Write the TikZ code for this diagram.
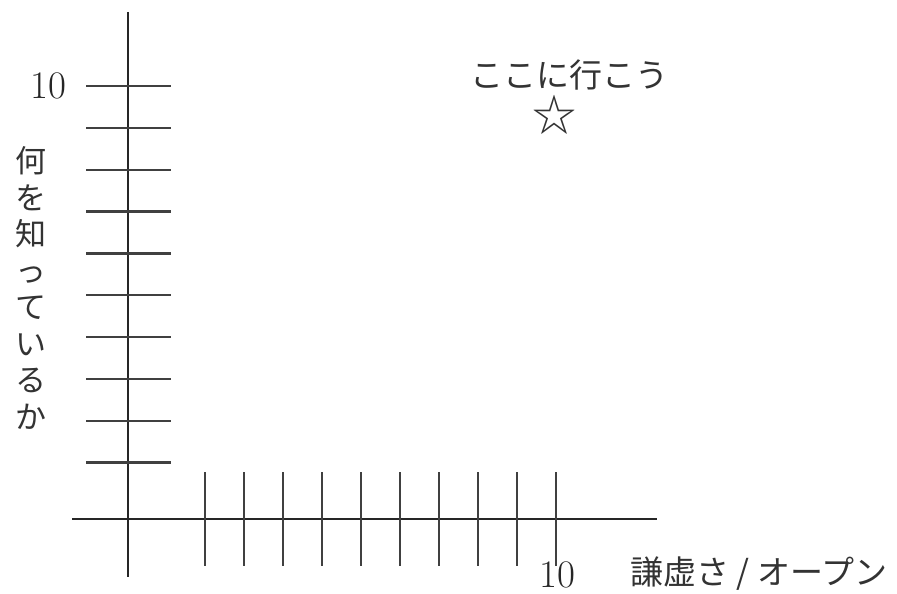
\documentclass[tikz,border=0pt]{standalone}
\usepackage{fontspec}
\newfontfamily\cjk{Noto Sans CJK JP}
\begin{document}
\begin{tikzpicture}[x=1pt,y=-1pt,
  axisline/.style={line width=2.2pt,draw=black!85},
  tickline/.style={line width=2.4pt,draw=black!75},
  numlabel/.style={font=\fontsize{39}{39}\selectfont,inner sep=0pt,text=black!85},
  jplabel/.style={font=\cjk\fontsize{33}{33}\selectfont,text=black!80,inner sep=0pt}]
\useasboundingbox (0,0) rectangle (897,594);
% axes
\coordinate (vtop) at (128,12);
\coordinate (vbot) at (128,577);
\coordinate (hleft) at (72,519);
\coordinate (hright) at (657,519);
\draw[axisline] (vtop) -- (vbot);
\draw[axisline] (hleft) -- (hright);
% ticks on vertical axis
\foreach \i in {0,...,9} {
  \coordinate (yl\i) at (86,{86+41.85*\i});
  \coordinate (yr\i) at (171,{86+41.85*\i});
  \draw[tickline] (yl\i) -- (yr\i);
}
% ticks on horizontal axis
\foreach \i in {0,...,9} {
  \coordinate (xt\i) at ({205+39.0*\i},472);
  \coordinate (xb\i) at ({205+39.0*\i},566);
  \draw[tickline] (xt\i) -- (xb\i);
}
% labels
\node[numlabel] (ten-y) at (48,86) {10};
\node[numlabel] (ten-x) at (557,575) {10};
\node[jplabel,align=center,font=\cjk\fontsize{31}{36.5}\selectfont] (ylab) at (31,288)
  {何\\を\\知\\っ\\て\\い\\る\\か};
\node[jplabel] (xlab) at (759,574) {謙虚さ / オープン};
\node[jplabel] (goal) at (569,75) {ここに行こう};
\node[jplabel,font=\cjk\fontsize{44}{44}\selectfont] (star) at (554,115) {☆};
\end{tikzpicture}
\end{document}
